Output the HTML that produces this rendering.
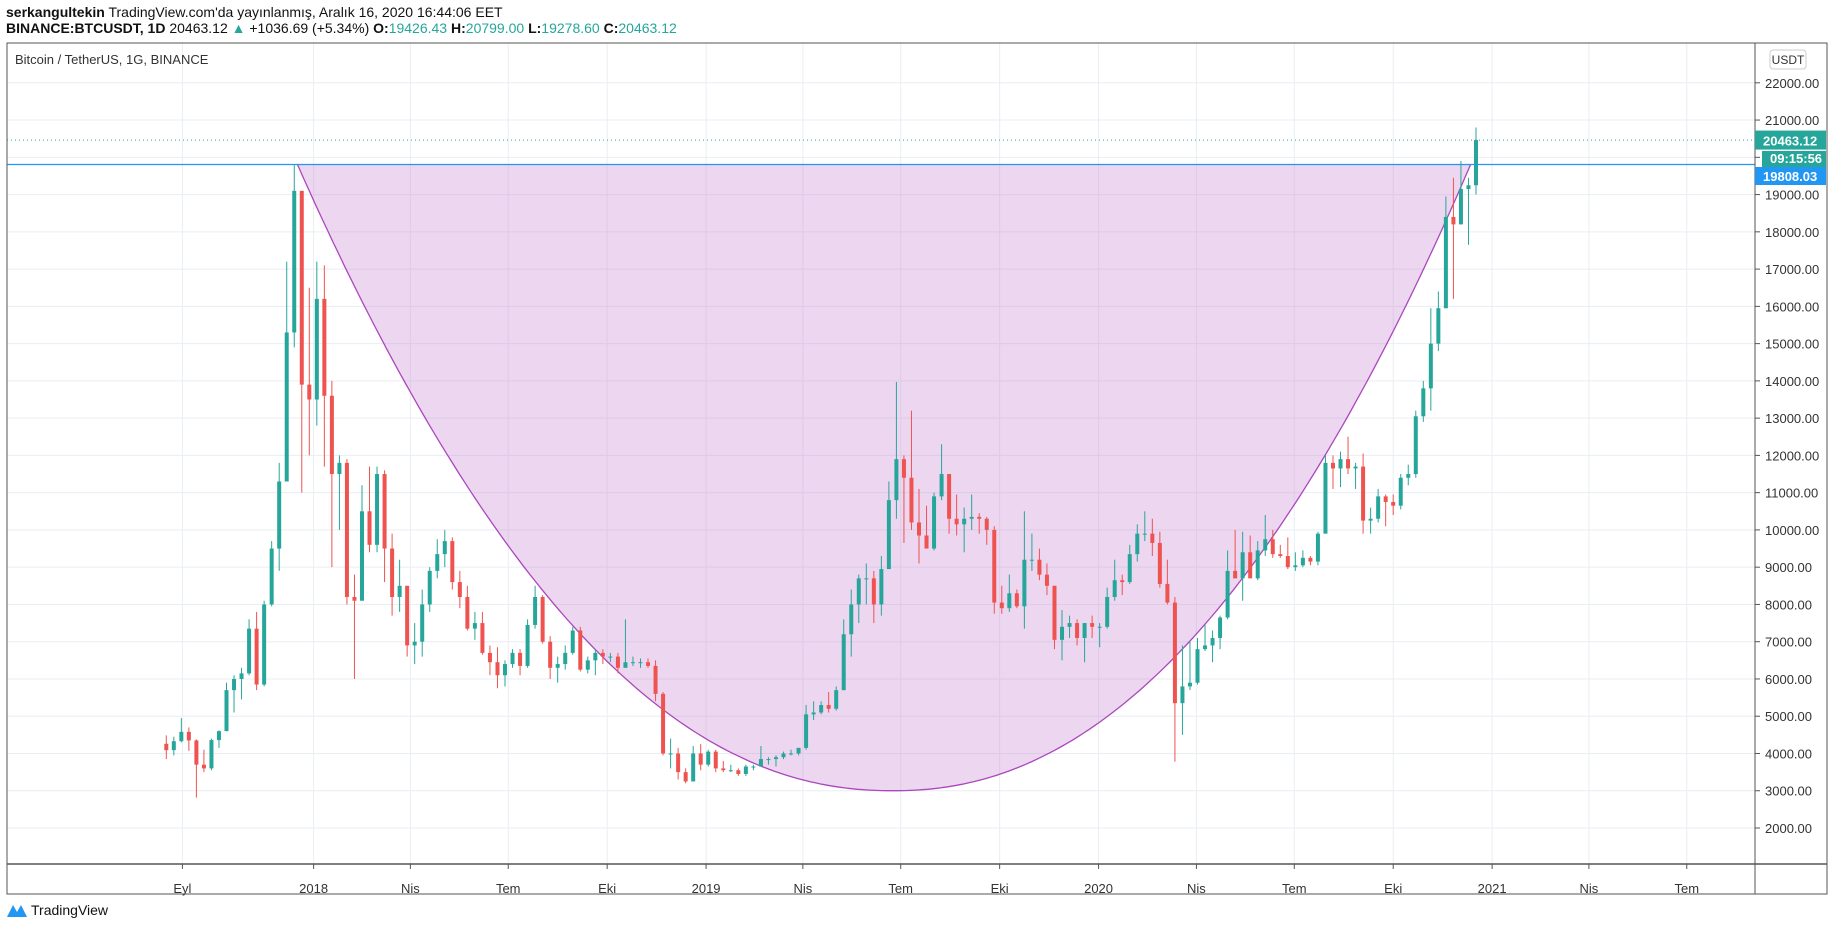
<!DOCTYPE html>
<html><head><meta charset="utf-8"><style>
body{margin:0;background:#fff;width:1828px;height:930px;overflow:hidden;font-family:"Liberation Sans",sans-serif}
svg{position:absolute;left:0;top:0}
</style></head><body>
<svg id="c" width="1828" height="930"></svg>
<script>
const weeks=["2017-08-14","2017-08-21","2017-08-28","2017-09-04","2017-09-11","2017-09-18","2017-09-25","2017-10-02","2017-10-09","2017-10-16","2017-10-23","2017-10-30","2017-11-06","2017-11-13","2017-11-20","2017-11-27","2017-12-04","2017-12-11","2017-12-18","2017-12-25"];
const ohlc=[
[4260,4485,3850,4090],[4090,4450,3950,4330],[4330,4950,4300,4580],[4580,4700,4070,4350],[4350,4380,2817,3700],[3700,4100,3500,3600],[3600,4400,3550,4360],[4360,4620,4150,4600],[4600,5900,4600,5700],[5700,6100,5100,6000],[6000,6300,5450,6150],[6150,7600,6100,7350],[7350,7800,5700,5850],[5850,8100,5800,8000],[8000,9700,7950,9500],[9500,11800,8900,11300],[11300,17200,11300,15300],[15300,19800,14900,19100],[19100,19100,11000,13900],[13900,16500,12000,13500],
[13500,17200,12800,16200],[16200,17100,11700,13600],[13600,14000,9000,11500],[11500,12000,10000,11800],[11800,11900,8000,8200],[8200,8800,6000,8100],[8100,11200,8100,10500],[10500,11700,9400,9600],[9600,11700,9400,11500],[11500,11600,8600,9500],[9500,9900,7700,8200],[8200,9200,7800,8500],[8500,8500,6600,6900],[6900,7500,6400,7000],[7000,8400,6600,8000],[8000,9000,7800,8900],[8900,9750,8700,9350],[9350,10000,9000,9700],[9700,9800,8400,8600],[8600,8900,7900,8200],[8200,8500,7300,7350],[7350,7800,7050,7500],[7500,7800,6650,6700],[6700,6900,6100,6450],[6450,6850,5750,6100],[6100,6500,5800,6400],[6400,6800,6300,6700],[6700,6800,6100,6350],[6350,7600,6300,7450],[7450,8500,7350,8200],[8200,8250,6950,7000],[7000,7150,6000,6300],[6300,6600,5900,6400],[6400,6900,6250,6700],[6700,7400,6650,7300],[7300,7400,6200,6250],[6250,6600,6150,6500],[6500,6800,6100,6700],[6700,6800,6400,6600],[6600,6700,6450,6600],[6600,6700,6150,6300],[6300,7600,6300,6450],[6450,6600,6350,6450],[6450,6550,6300,6450],[6450,6550,6300,6350],[6350,6500,5400,5600],[5600,5650,3950,4000],[4000,4400,3600,4000],[4000,4150,3300,3500],[3500,3600,3200,3250],[3250,4200,3250,4000],[4000,4250,3550,3700],
[3700,4100,3650,4050],[4050,4100,3500,3600],[3600,3800,3500,3550],[3550,3700,3500,3550],[3550,3600,3400,3450],[3450,3700,3400,3650],[3650,3700,3550,3650],[3650,4200,3650,3850],[3850,3900,3700,3850],[3850,3950,3650,3900],[3900,4050,3850,4000],[4000,4100,3950,4000],[4000,4150,3950,4150],[4150,5300,4100,5050],[5050,5400,4900,5100],[5100,5400,5050,5300],[5300,5650,5100,5200],[5200,5800,5150,5700],[5700,7600,5700,7200],[7200,8400,6600,8000],[8000,8800,7500,8700],[8700,9100,8000,8700],[8700,8900,7500,8000],[8000,9300,7700,8950],[8950,11300,8950,10800],[10800,13970,10300,11900],[11900,12000,9650,11400],[11400,13200,10000,10200],[10200,11100,9100,9850],[9850,10650,9500,9500],[9500,11000,9450,10900],[10900,12300,10800,11500],[11500,11500,9900,10300],[10300,10950,9850,10150],[10150,10600,9400,10300],[10300,10950,10000,10350],[10350,10450,9900,10300],[10300,10350,9600,10000],[10000,10100,7750,8050],[8050,8500,7750,7900],[7900,8800,7800,8300],[8300,8400,7900,7950],[7950,10500,7350,9200],[9200,9900,8900,9200],[9200,9500,8650,8800],[8800,9100,8250,8500],[8500,8500,6800,7050],[7050,7850,6500,7400],[7400,7700,7100,7500],[7500,7600,6900,7100],[7100,7500,6450,7500],[7500,7700,7100,7400],
[7400,7500,6850,7400],[7400,8450,7350,8200],[8200,9200,8100,8650],[8650,8800,8250,8600],[8600,9600,8550,9350],[9350,10150,9150,9900],[9900,10500,9700,9900],[9900,10300,9300,9650],[9650,9950,8450,8550],[8550,9200,8000,8050],[8050,8200,3780,5350],[5350,6900,4500,5800],[5800,7000,5700,5900],[5900,7100,5850,6800],[6800,7450,6750,6900],[6900,7300,6450,7100],[7100,7700,6800,7650],[7650,9450,7600,8900],[8900,10000,8700,8700],[8700,9950,8100,9400],[9400,9850,8800,8700],[8700,9700,8650,9450],[9450,10400,9300,9750],[9750,10000,9250,9350],[9350,9600,9250,9300],[9300,9800,8950,9000],[9000,9400,8900,9050],[9050,9450,9000,9250],[9250,9300,9050,9150],[9150,9950,9050,9900],[9900,12000,9900,11800],[11800,12000,11100,11650],[11650,12100,11150,11900],[11900,12500,11500,11650],[11650,11800,11100,11700],[11700,12050,9900,10250],[10250,10600,9900,10300],[10300,11100,10200,10900],[10900,10950,10100,10750],[10750,10950,10400,10650],[10650,11500,10550,11400],[11400,11750,11200,11500],[11500,13200,11400,13050],[13050,14000,12900,13800],[13800,15950,13200,15000],[15000,16400,14800,15950],[15950,18950,15950,18400],[18400,19450,16200,18200],[18200,19900,18200,19150],[19150,19450,17650,19250],[19250,20800,19000,20463]];
const priceTicks=[2000,3000,4000,5000,6000,7000,8000,9000,10000,11000,12000,13000,14000,15000,16000,17000,18000,19000,20000,21000,22000];
const timeLabels=["Eyl","2018","Nis","Tem","Eki","2019","Nis","Tem","Eki","2020","Nis","Tem","Eki","2021","Nis","Tem"];
const timeDates=["2017-09-01","2018-01-01","2018-04-01","2018-07-01","2018-10-01","2019-01-01","2019-04-01","2019-07-01","2019-10-01","2020-01-01","2020-04-01","2020-07-01","2020-10-01","2021-01-01","2021-04-01","2021-07-01"];
const lastPrice=20463.12, resistance=19808.03, cupBottom=3000;
const cupStart="2017-12-17", cupLow="2019-06-24", cupEnd="2020-12-12";

const NS="http://www.w3.org/2000/svg";const svg=document.getElementById('c');
const PL=7,PR=1755,PT=43,PB=864;
const day=d=>(Date.parse(d)-Date.parse("2018-01-01"))/864e5;
const X=d=>313.6+day(d)*1.0753;
const Y=p=>828-(p-2000)*0.03726;
function el(t,a,txt){const e=document.createElementNS(NS,t);for(const k in a)e.setAttribute(k,a[k]);if(txt!=null)e.textContent=txt;svg.appendChild(e);return e;}
priceTicks.forEach(p=>{const g=el('line',{x1:PL,x2:PR,y1:Y(p),y2:Y(p),stroke:'#e9eef3'});

el('line',{x1:PR,x2:PR+5,y1:Y(p),y2:Y(p),stroke:'#555'});
const t=el('text',{x:PR+10,y:Y(p)+5,'font-size':13,fill:'#333'},p.toFixed(2));
});
timeDates.forEach((d,i)=>{const x=X(d);const g=el('line',{x1:x,x2:x,y1:PT,y2:PB,stroke:'#e9eef3'});

el('line',{x1:x,x2:x,y1:PB,y2:PB+5,stroke:'#555'});
const t=el('text',{x:x,y:PB+29,'font-size':13,fill:'#333','text-anchor':'middle'},timeLabels[i]);
});
const x0=X(cupStart),xb=X(cupLow),x1=X(cupEnd),yt=Y(resistance),yb=Y(cupBottom);
let pts=[];for(let i=0;i<=100;i++){const x=x0+(xb-x0)*i/100;const t=(xb-x)/(xb-x0);pts.push([x,yb-(yb-yt)*Math.pow(t,2.15)]);}
for(let i=1;i<=100;i++){const x=xb+(x1-xb)*i/100;const t=(x-xb)/(x1-xb);pts.push([x,yb-(yb-yt)*Math.pow(t,2.15)]);}
const ps=pts.map(p=>p[0].toFixed(1)+','+p[1].toFixed(1)).join(' ');
const cf=el('polygon',{points:ps,fill:'rgba(206,147,216,0.38)'});

const cl=el('polyline',{points:ps,fill:'none',stroke:'#ab47bc','stroke-width':1.3});

ohlc.forEach((c,i)=>{const d=new Date(Date.parse("2017-08-14")+i*7*864e5+3.5*864e5);const x=X(d.toISOString().slice(0,10));
const up=c[3]>=c[0];const col=up?'#26a69a':'#ef5350';
const w=el('line',{x1:x,x2:x,y1:Y(c[1]),y2:Y(c[2]),stroke:col,'stroke-width':1});

const top=Y(Math.max(c[0],c[3])),h=Math.max(1,Math.abs(Y(c[0])-Y(c[3])));
const b=el('rect',{x:x-2,y:top,width:4,height:h,fill:col});
});
const rl=el('line',{x1:PL,x2:PR,y1:Y(resistance),y2:Y(resistance),stroke:'#2196f3','stroke-width':1.3});

const ll=el('line',{x1:PL,x2:PR,y1:Y(lastPrice),y2:Y(lastPrice),stroke:'#26a69a','stroke-dasharray':'1 3'});

el('rect',{x:PL,y:PT,width:1828-PL-1,height:894-PT,fill:'none',stroke:'#555'});
el('line',{x1:PL,x2:1827,y1:PB,y2:PB,stroke:'#555','stroke-width':1.5});
el('line',{x1:PR,x2:PR,y1:PT,y2:894,stroke:'#555'});
function box(y,h,fill,txt,name,x){const r=el('rect',{x:x||PR,y:y,width:1826-(x||PR),height:h,fill:fill});

el('text',{x:(x||PR)+8,y:y+h-4,'font-size':13,'font-weight':'bold',fill:'#fff'},txt);}
box(Y(lastPrice)-9.5,19,'#26a69a',lastPrice.toFixed(2),'last-price-label');
box(151,16,'#26a69a','09:15:56','countdown-label',1762);
box(167,18,'#2196f3',resistance.toFixed(2),'resistance-label');
const ub=el('rect',{x:1770,y:50,width:36,height:19,rx:3,fill:'#fff',stroke:'#ccc'});

el('text',{x:1788,y:64,'font-size':12,fill:'#333','text-anchor':'middle'},'USDT');
const pl=el('text',{x:15,y:64,'font-size':13,fill:'#333'},'Bitcoin / TetherUS, 1G, BINANCE');

</script>
<div style="position:absolute;left:6px;top:4px;font-size:14px;color:#111"><b>serkangultekin</b> TradingView.com'da yayınlanmış, Aralık 16, 2020 16:44:06 EET</div>
<div style="position:absolute;left:6px;top:20px;font-size:14px;color:#111"><b>BINANCE:BTCUSDT, 1D</b> 20463.12 <span style="color:#26a69a">▲</span> +1036.69 (+5.34%) <b>O:</b><span style="color:#26a69a">19426.43</span> <b>H:</b><span style="color:#26a69a">20799.00</span> <b>L:</b><span style="color:#26a69a">19278.60</span> <b>C:</b><span style="color:#26a69a">20463.12</span></div>
<div style="position:absolute;left:6px;top:902px;font-size:14px;color:#111;display:flex;align-items:center;gap:3px"><svg width="22" height="16" style="position:static"><path d="M1 15 L7 3 L11 10 L15 3 L21 15 Z" fill="#2196f3"/></svg>TradingView</div>
</body></html>
